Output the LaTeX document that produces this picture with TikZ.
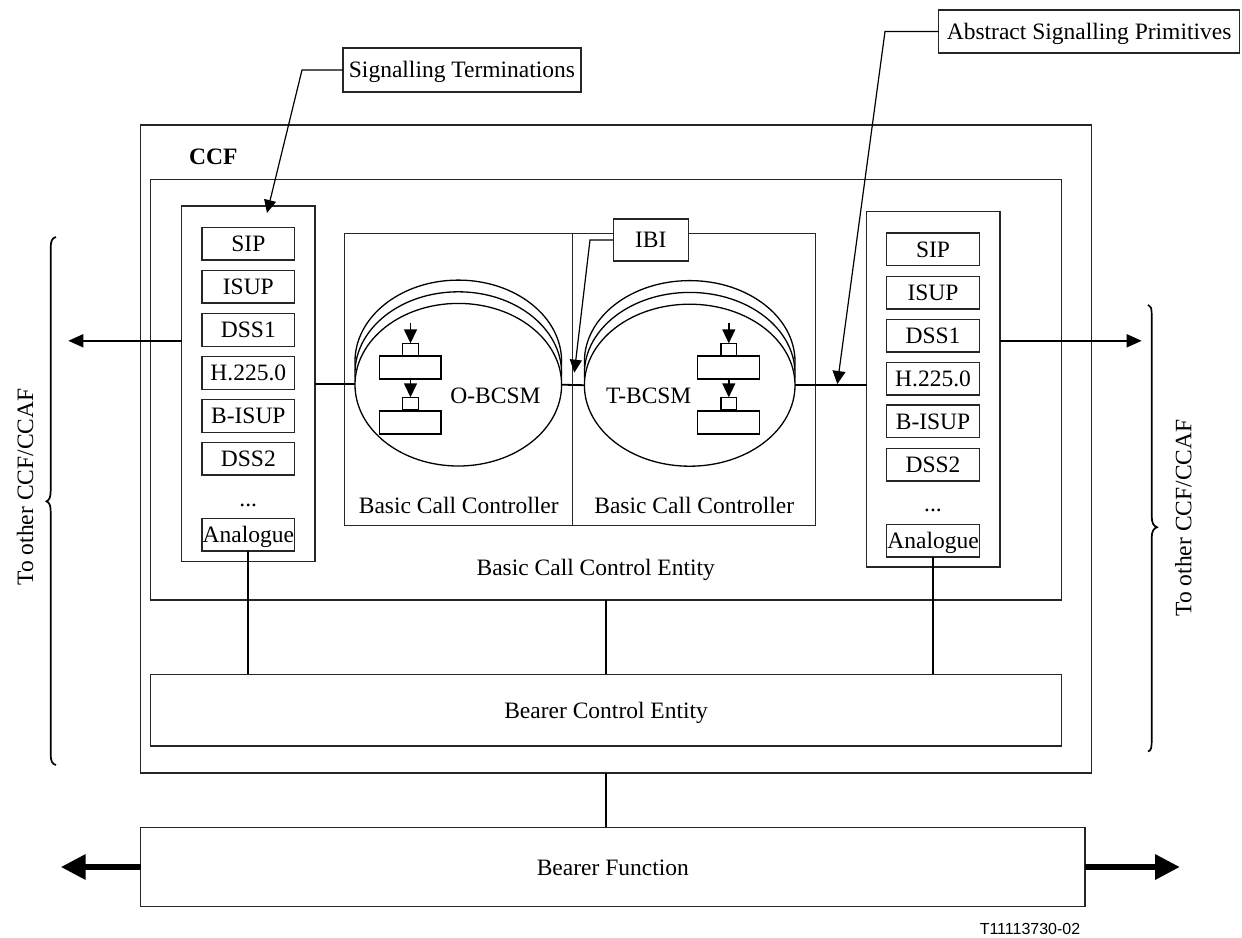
\documentclass[tikz,border=0pt]{standalone}
\usepackage{fontspec}
\setmainfont{Liberation Serif}
\newfontfamily\labelsans{Liberation Sans}
\usetikzlibrary{arrows.meta,shapes.geometric}
\begin{document}
\begin{tikzpicture}[x=1pt,y=-1pt,
  every node/.style={font=\fontsize{23.5}{28}\selectfont},
  box/.style={draw=black!85, line width=1.3pt, inner sep=0pt, outer sep=0pt, anchor=north west, fill=white},
  item/.style={box, minimum width=92.7pt, minimum height=32.5pt, text height=16.5pt, text depth=1pt},
  bell/.style={ellipse, draw=black, line width=1.3pt, fill=white, inner sep=0pt, outer sep=0pt},
  oell/.style={bell, minimum width=206.6pt, minimum height=162.6pt},
  tell/.style={bell, minimum width=210.6pt, minimum height=162pt},
  sq/.style={box, draw=black, minimum width=15.6pt, minimum height=12.7pt},
  rt/.style={box, draw=black, minimum width=61.7pt, minimum height=23pt},
  conn/.style={line width=1.8pt},
  lead/.style={line width=1.2pt},
  smalltip/.style={-{Triangle[length=14pt,width=13pt]}},
  lbl/.style={anchor=base, inner sep=0pt},
  bigarrow/.style={line width=6.7pt, -{Triangle[length=25pt,width=24pt]}}
]
\useasboundingbox (0,0) rectangle (1242,937);

% main containers
\node[box, minimum width=951pt, minimum height=648pt] (ccf) at (140.7,125) {};
\node[lbl, anchor=base west, font=\fontsize{23.5}{28}\selectfont\bfseries] (ccflbl) at (189,164) {CCF};
\node[box, minimum width=910.6pt, minimum height=420.7pt] (bcce) at (150.7,179.3) {};
\node[lbl] (bccelbl) at (595.7,575) {Basic Call Control Entity};

% signalling termination columns
\node[box, minimum width=133.3pt, minimum height=355.5pt] (sigL) at (181.7,206) {};
\node[box, minimum width=133.5pt, minimum height=355.5pt] (sigR) at (866.5,211.5) {};

\node[item] (sipL) at (202,227.5) {SIP};
\node[item] (isupL) at (202,270.5) {ISUP};
\node[item] (dss1L) at (202,313.8) {DSS1};
\node[item] (hL) at (202,356.8) {H.225.0};
\node[item] (bisupL) at (202,399.8) {B-ISUP};
\node[item] (dss2L) at (202,442.4) {DSS2};
\node[lbl] (dotsL) at (248.3,506) {...};
\node[item] (anL) at (202,518.4) {Analogue};

\node[item] (sipR) at (886.7,233.1) {SIP};
\node[item] (isupR) at (886.7,276.5) {ISUP};
\node[item] (dss1R) at (886.7,319.5) {DSS1};
\node[item] (hR) at (886.7,362.5) {H.225.0};
\node[item] (bisupR) at (886.7,405.1) {B-ISUP};
\node[item] (dss2R) at (886.7,448.5) {DSS2};
\node[lbl] (dotsR) at (933,511.5) {...};
\node[item] (anR) at (886.7,524.6) {Analogue};

% basic call controllers
\node[box, minimum width=228pt, minimum height=292.4pt] (bccO) at (344.7,233.3) {};
\node[box, minimum width=243pt, minimum height=292.4pt] (bccT) at (572.7,233.3) {};
\node[lbl] (bccOlbl) at (458.7,513) {Basic Call Controller};
\node[lbl] (bccTlbl) at (694.2,513) {Basic Call Controller};

% O-BCSM stacked ellipses
\node[oell] (oE2) at (458.3,361.4) {};
\node[oell] (oE1) at (458.3,373.1) {};
\node[oell] (oE) at (458.3,384.7) {};
% T-BCSM stacked ellipses
\node[tell] (tE2) at (689.7,361.6) {};
\node[tell] (tE1) at (689.7,373.4) {};
\node[tell] (tE) at (689.7,385.2) {};

\node[lbl] (olbl) at (495.5,403) {O-BCSM};
\node[lbl] (tlbl) at (648.7,403) {T-BCSM};

% mini state diagrams
\node[sq] (osq1) at (402.7,343.3) {};
\node[rt] (or1) at (379.3,356) {};
\node[sq] (osq2) at (402.7,397.3) {};
\node[rt] (or2) at (379.3,411) {};
\draw[conn, line width=1.4pt, smalltip] ([yshift=20pt]osq1.north) -- (osq1.north);
\draw[conn, line width=1.4pt, smalltip] (or1.south -| osq2.north) -- (osq2.north);

\node[sq] (tsq1) at (721,343.3) {};
\node[rt] (tr1) at (697.7,356) {};
\node[sq] (tsq2) at (721,397.3) {};
\node[rt] (tr2) at (697.7,411) {};
\draw[conn, line width=1.4pt, smalltip] ([yshift=20pt]tsq1.north) -- (tsq1.north);
\draw[conn, line width=1.4pt, smalltip] (tr1.south -| tsq2.north) -- (tsq2.north);

% horizontal signalling connectors
\draw[conn] (sigL.east) -- (sigL.east -| oE.west);
\draw[conn] (oE.east) -- (tE.west);
\draw[conn] (tE.east) -- (tE.east -| sigR.west);

% outgoing arrows
\coordinate (lout) at (68.3,340.8);
\coordinate (rout) at (1141.7,340.8);
\draw[conn, -{Triangle[length=15pt,width=13pt]}] (sigL.west |- lout) -- (lout);
\draw[conn, -{Triangle[length=15pt,width=13pt]}] (sigR.east |- rout) -- (rout);

% bearer control entity
\node[box, minimum width=910.8pt, minimum height=71.7pt] (bce) at (150.7,674.3) {};
\node[lbl] (bcelbl) at (606.1,718) {Bearer Control Entity};
\draw[conn] (anL.south) -- (anL.south |- bce.north);
\draw[conn] (anR.south) -- (anR.south |- bce.north);
\draw[conn] (bcce.south) -- (bcce.south |- bce.north);

% bearer function
\node[box, minimum width=944.3pt, minimum height=79.4pt] (bf) at (140.7,827.3) {};
\node[lbl] (bflbl) at (612.8,875) {Bearer Function};
\draw[conn, line width=1.5pt] (bce.south |- ccf.south) -- (bce.south |- bf.north);
\coordinate (bfl) at (60.7,867);
\coordinate (bfr) at (1180,867);
\draw[bigarrow] (bf.west) -- (bfl);
\draw[bigarrow] (bf.east) -- (bfr);

% IBI callout
\node[box, minimum width=75pt, minimum height=42pt, text height=16.5pt, text depth=1pt] (ibi) at (613.3,219) {IBI};
\coordinate (ibibend) at (590,240);
\coordinate (ibitip) at (574.3,372.7);
\draw[lead, -{Triangle[length=13pt,width=12pt]}] (ibi.west) -- (ibibend) -- (ibitip);

% Signalling Terminations callout
\node[box, minimum width=238pt, minimum height=44pt, text height=16.5pt, text depth=1pt] (sigterm) at (343,48) {Signalling Terminations};
\coordinate (stbend) at (302,70);
\coordinate (sttip) at (267,213);
\draw[lead, -{Triangle[length=13pt,width=12pt]}] (sigterm.west) -- (stbend) -- (sttip);

% Abstract Signalling Primitives callout
\node[box, minimum width=301pt, minimum height=43pt, text height=16.5pt, text depth=1pt] (asp) at (938.6,10) {Abstract Signalling Primitives};
\coordinate (aspbend) at (885,31.5);
\coordinate (asptip) at (837.3,384);
\draw[lead, -{Triangle[length=13pt,width=13pt]}] (asp.west) -- (aspbend) -- (asptip);

% braces
\draw[line width=1.7pt] (56,237) .. controls (52,238) and (50.7,241) .. (50.7,248) -- (50.7,490) .. controls (50.7,497) and (49.5,500) .. (46.5,501.3) .. controls (49.5,502.6) and (50.7,505.5) .. (50.7,512) -- (50.7,754) .. controls (50.7,761) and (52,764) .. (56,765);
\draw[line width=1.7pt] (1148,304.8) .. controls (1151,306) and (1151.7,308) .. (1151.7,315) -- (1151.7,516) .. controls (1151.7,523) and (1153.5,526) .. (1157,527.2) .. controls (1153.5,528.4) and (1151.7,531.5) .. (1151.7,538) -- (1151.7,741) .. controls (1151.7,748) and (1151,750.5) .. (1148,751.5);

\node[rotate=90] (toL) at (25,487) {To other CCF/CCAF};
\node[rotate=90] (toR) at (1183.3,518) {To other CCF/CCAF};

\node[lbl, font=\labelsans\fontsize{16}{18}\selectfont] (fig) at (1030,934) {T11113730-02};
\end{tikzpicture}
\end{document}
